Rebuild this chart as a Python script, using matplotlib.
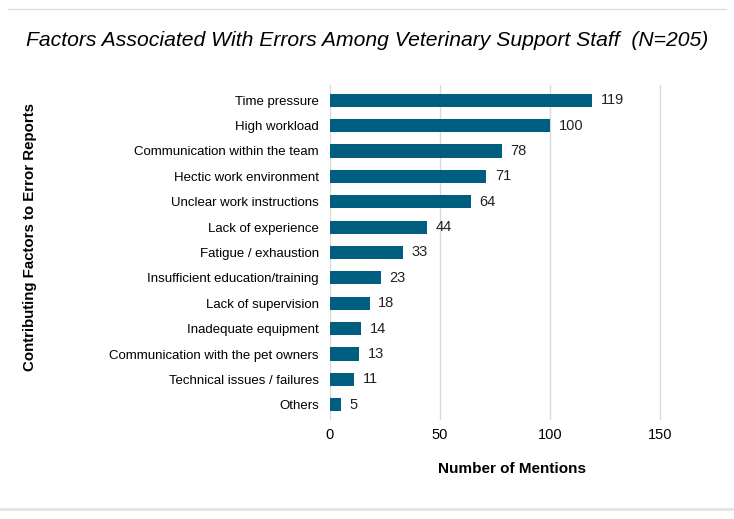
import matplotlib
matplotlib.use("Agg")
from matplotlib import pyplot as plt
from matplotlib.lines import Line2D

# data, top to bottom as in the chart
factors = ["Time pressure", "High workload", "Communication within the team",
           "Hectic work environment", "Unclear work instructions",
           "Lack of experience", "Fatigue / exhaustion",
           "Insufficient education/training", "Lack of supervision",
           "Inadequate equipment", "Communication with the pet owners",
           "Technical issues / failures", "Others"]
mentions = [119, 100, 78, 71, 64, 44, 33, 23, 18, 14, 13, 11, 5]
x_ticks = [0, 50, 100, 150]

plt.rcParams['font.family'] = ['Liberation Sans', 'DejaVu Sans']

fig = plt.figure(figsize=(7.34, 5.19), dpi=100)
ax = fig.add_axes([330/734, 1-420/519, (695-330)/734, (420-85)/519])

pos = list(range(len(factors)))[::-1]
ax.barh(pos, mentions, height=0.52, color="#005f80", zorder=3)
for p, v in zip(pos, mentions):
    ax.text(v + 4, p, str(v), va="center", ha="left", fontsize=10.5, color="#222222")

ax.set_yticks(pos)
ax.set_yticklabels(factors, fontsize=9.5)
ax.set_ylim(-0.6, len(factors) - 0.4)
ax.set_xlim(0, 166)
ax.set_xticks(x_ticks)
ax.tick_params(axis="x", labelsize=10.5, length=0, pad=6)
ax.tick_params(axis="y", length=0, pad=8)
ax.grid(axis="x", color="#d9d9d9", linewidth=1, zorder=0)
for s in ax.spines.values():
    s.set_visible(False)

ax.set_xlabel("Number of Mentions", fontsize=11, fontweight="bold", labelpad=14)
fig.text(30/734, 1-237/519, "Contributing Factors to Error Reports", rotation=90,
         fontsize=10.8, fontweight="bold", ha="center", va="center")

fig.text(367/734, 1-40/519, "Factors Associated With Errors Among Veterinary Support Staff  (N=205)",
         fontsize=15.2, style="italic", ha="center", va="center")

# thin frame lines top and bottom
fig.add_artist(Line2D([8/734, 726/734], [1-9/519, 1-9/519], color="#e0e0e0", linewidth=1))
fig.add_artist(Line2D([0, 1], [1-509/519, 1-509/519], color="#e3e3e3", linewidth=2))

fig.savefig("out.png", dpi=100)
